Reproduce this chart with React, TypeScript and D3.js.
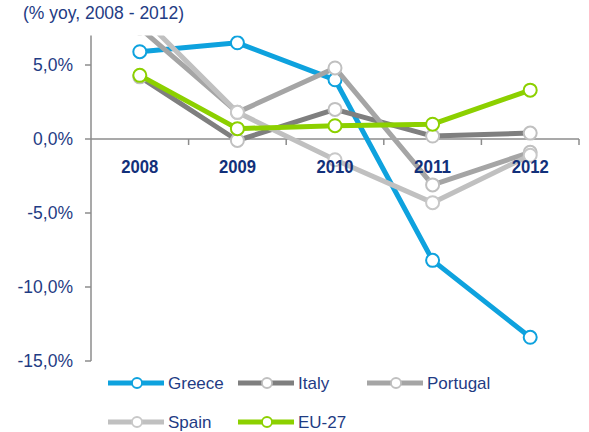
import React from 'react';
import * as d3 from 'd3';

// years on the category axis
const years = ['2008', '2009', '2010', '2011', '2012'];

// % yoy values per country
const greece = [5.9, 6.5, 4.0, -8.2, -13.4];
const italy = [4.2, -0.1, 2.0, 0.2, 0.4];
const portugal = [7.5, 1.8, 4.8, -3.1, -0.9];
const spain = [8.4, 1.8, -1.4, -4.3, -1.1];
const eu27 = [4.3, 0.7, 0.9, 1.0, 3.3];

const yTicks = [5, 0, -5, -10, -15];

const seriesNames = ['Greece', 'Italy', 'Portugal', 'Spain', 'EU-27'];
const seriesValues = [greece, italy, portugal, spain, eu27];
const lineColors = ['#0ea2de', '#7f7f7f', '#a5a5a5', '#c0c0c0', '#8cd000'];
const markerColors = ['#0ea2de', '#c0c0c0', '#c0c0c0', '#c8c8c8', '#8cd000'];

const W = 589;
const H = 432;
const navy = '#1f3c84';
const axisGray = '#8c8c8c';

const fmt = (v: number) => `${v.toFixed(1).replace('.', ',')}%`;

export default function App() {
  const x = d3.scaleBand<string>().domain(years).range([91, 579]);
  const y = d3.scaleLinear().domain([-15, 7]).range([361, 35.4]);
  const cx = (yr: string) => (x(yr) as number) + x.bandwidth() / 2;

  const line = d3
    .line<number>()
    .x((_, i) => cx(years[i]))
    .y((d) => y(d));

  // legend slots: two rows, three columns
  const legendPos = [
    [108, 383],
    [238, 383],
    [367, 383],
    [108, 422],
    [238, 422],
  ];

  return (
    <svg
      width={W}
      height={H}
      style={{ position: 'absolute', left: 0, top: 0, background: '#fff' }}
      fontFamily="'Liberation Sans', Arial, sans-serif"
    >
      <defs>
        <clipPath id="plot">
          <rect x={91} y={y(7)} width={488} height={y(-15) - y(7)} />
        </clipPath>
      </defs>

      <text x={23} y={19} fontSize={17.5} fill={navy}>
        (% yoy, 2008 - 2012)
      </text>

      {/* y axis */}
      <line x1={91} x2={91} y1={y(7)} y2={y(-15)} stroke={axisGray} strokeWidth={1.5} />
      {yTicks.map((t) => (
        <g key={t}>
          <line x1={85} x2={91} y1={y(t)} y2={y(t)} stroke={axisGray} strokeWidth={1.5} />
          <text x={73} y={y(t) + 6} fontSize={17.5} fill={navy} textAnchor="end">
            {fmt(t)}
          </text>
        </g>
      ))}

      {/* x axis at zero */}
      <line x1={91} x2={579} y1={y(0)} y2={y(0)} stroke={axisGray} strokeWidth={1.5} />
      {years.map((yr) => (
        <line
          key={'t' + yr}
          x1={(x(yr) as number) + x.bandwidth()}
          x2={(x(yr) as number) + x.bandwidth()}
          y1={y(0)}
          y2={y(0) + 6}
          stroke={axisGray}
          strokeWidth={1.5}
        />
      ))}

      {/* series */}
      <g clipPath="url(#plot)">
        {seriesValues.map((vals, s) => (
          <g key={seriesNames[s]}>
            <path
              d={line(vals) || ''}
              fill="none"
              stroke={lineColors[s]}
              strokeWidth={5}
              strokeLinejoin="round"
            />
            {vals.map((v, i) => (
              <circle
                key={i}
                cx={cx(years[i])}
                cy={y(v)}
                r={6.5}
                fill="#fff"
                stroke={markerColors[s]}
                strokeWidth={2}
              />
            ))}
          </g>
        ))}
      </g>

      {/* category labels sit above the lines */}
      {years.map((yr) => (
        <text
          key={'l' + yr}
          x={cx(yr)}
          y={173}
          fontSize={19}
          fontWeight="bold"
          fill="#12307a"
          textAnchor="middle"
          fontFamily="'Liberation Sans Narrow', 'Arial Narrow', 'Liberation Sans', Arial"
          textLength={37}
          lengthAdjust="spacingAndGlyphs"
        >
          {yr}
        </text>
      ))}

      {/* legend */}
      {seriesNames.map((name, s) => {
        const [lx, ly] = legendPos[s];
        return (
          <g key={'lg' + name}>
            <line x1={lx} x2={lx + 56} y1={ly} y2={ly} stroke={lineColors[s]} strokeWidth={5} />
            <circle cx={lx + 29} cy={ly} r={5} fill="#fff" stroke={markerColors[s]} strokeWidth={1.8} />
            <text x={lx + 60} y={ly + 6} fontSize={17} fill={navy}>
              {name}
            </text>
          </g>
        );
      })}
    </svg>
  );
}
